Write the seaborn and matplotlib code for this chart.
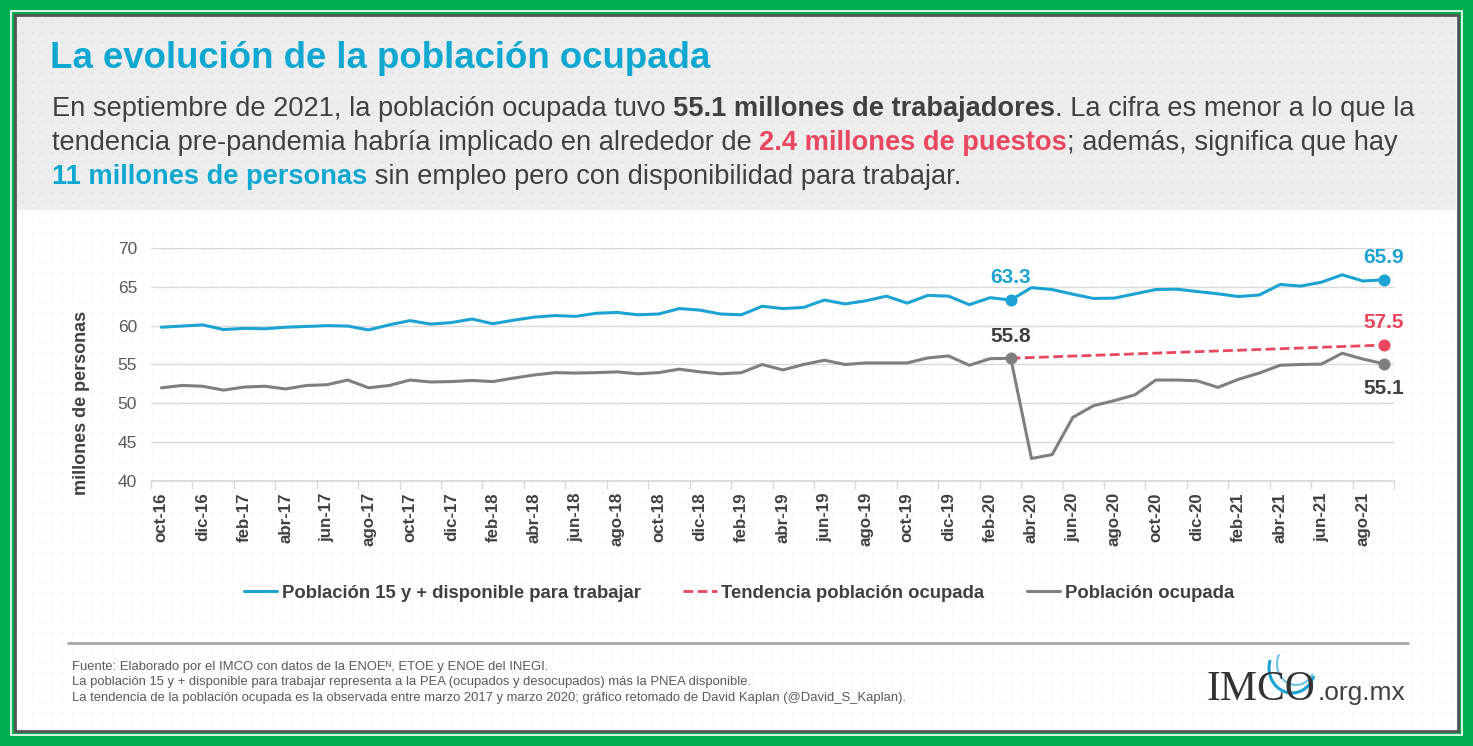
import numpy as np
import pandas as pd
import matplotlib
matplotlib.use("Agg")
import matplotlib.pyplot as plt
from matplotlib.patches import Rectangle, Arc
import seaborn as sns

# Datos en millones de personas, oct-16 .. sep-21 (mensual)
meses_abr = ["ene", "feb", "mar", "abr", "may", "jun", "jul", "ago", "sep", "oct", "nov", "dic"]
meses = [f"{meses_abr[(9 + k) % 12]}-{16 + (9 + k) // 12}" for k in range(60)]

disponible = [59.8, 59.95, 60.1, 59.5, 59.65, 59.6, 59.8, 59.9, 60.0, 59.95,
              59.45, 60.1, 60.65, 60.2, 60.4, 60.85, 60.25, 60.7, 61.1, 61.3,
              61.2, 61.6, 61.7, 61.4, 61.5, 62.2, 62.0, 61.5, 61.4, 62.5,
              62.2, 62.35, 63.3, 62.8, 63.2, 63.8, 62.9, 63.9, 63.8, 62.7,
              63.6, 63.3, 64.9, 64.65, 64.05, 63.5, 63.55, 64.1, 64.65, 64.7,
              64.4, 64.1, 63.75, 63.95, 65.3, 65.1, 65.6, 66.55, 65.75, 65.9]

ocupada = [52.0, 52.3, 52.2, 51.7, 52.1, 52.2, 51.85, 52.3, 52.4, 53.0,
           52.0, 52.3, 53.0, 52.75, 52.8, 52.95, 52.8, 53.25, 53.65, 53.95,
           53.9, 53.95, 54.05, 53.8, 53.95, 54.4, 54.05, 53.8, 53.95, 55.0,
           54.3, 55.0, 55.55, 55.0, 55.2, 55.2, 55.2, 55.85, 56.1, 54.9,
           55.75, 55.8, 42.9, 43.4, 48.2, 49.7, 50.35, 51.1, 53.0, 53.0,
           52.9, 52.05, 53.1, 53.9, 54.9, 55.0, 55.05, 56.45, 55.7, 55.1]

tendencia_meses = ["mar-20", "sep-21"]
tendencia = [55.8, 57.5]

etiquetas_y = [40, 45, 50, 55, 60, 65, 70]

AZUL = "#1BA3D3"
ROJO = "#E8475F"
GRIS = "#7F7F7F"
TEXTO = "#404040"
TITULO = "#0FA8D0"

sns.set_theme(style="white")
plt.rcParams["font.family"] = ["Liberation Sans", "DejaVu Sans"]

W, H = 1473, 746
fig = plt.figure(figsize=(W / 100, H / 100), dpi=100)

# fondo en coordenadas de pixel
bg = fig.add_axes([0, 0, 1, 1], zorder=0)
bg.set_xlim(0, W)
bg.set_ylim(H, 0)
bg.axis("off")
bg.add_patch(Rectangle((0, 0), W, H, facecolor="#00B050", edgecolor="none"))
bg.add_patch(Rectangle((11, 11), W - 22, H - 22, facecolor="none", edgecolor="white", lw=1.2))
bg.add_patch(Rectangle((15, 15), W - 30, H - 30, facecolor="white", edgecolor="#555555", lw=2.0))
bg.add_patch(Rectangle((17, 17), W - 34, 193, facecolor="#EDEDED", edgecolor="none"))
gx, gy = np.meshgrid(np.arange(22, W - 18, 10), np.arange(22, H - 18, 10))
top = gy < 210
bg.scatter(gx[top], gy[top], s=1.6, color="#DDDDDD", linewidths=0)
bg.scatter(gx[~top], gy[~top], s=1.6, color="#ECECEC", linewidths=0)

renderer = fig.canvas.get_renderer()


def ancho(txt, size, weight):
    a = bg.text(0, 0, "|" + txt + "|", fontsize=size, fontweight=weight)
    b = bg.text(0, 0, "||", fontsize=size, fontweight=weight)
    w = a.get_window_extent(renderer).width - b.get_window_extent(renderer).width
    a.remove()
    b.remove()
    return w


def texto_mixto(x, y, partes, size):
    for txt, color, weight in partes:
        bg.text(x, y, txt, color=color, fontsize=size, fontweight=weight, va="baseline", ha="left")
        x += ancho(txt, size, weight)


bg.text(50, 68, "La evolución de la población ocupada", color=TITULO, fontsize=26.4,
        fontweight="bold", va="baseline")
sub = 19.6
texto_mixto(52, 116, [("En septiembre de 2021, la población ocupada tuvo ", TEXTO, "normal"),
                      ("55.1 millones de trabajadores", TEXTO, "bold"),
                      (". La cifra es menor a lo que la", TEXTO, "normal")], sub)
texto_mixto(52, 150, [("tendencia pre-pandemia habría implicado en alrededor de ", TEXTO, "normal"),
                      ("2.4 millones de puestos", ROJO, "bold"),
                      ("; además, significa que hay", TEXTO, "normal")], sub)
texto_mixto(52, 184, [("11 millones de personas", TITULO, "bold"),
                      (" sin empleo pero con disponibilidad para trabajar.", TEXTO, "normal")], sub)

# pie
bg.plot([68, 1408], [643, 643], color="#A6A6A6", lw=2)
notas = ["Fuente: Elaborado por el IMCO con datos de la ENOEᴺ, ETOE y ENOE del INEGI.",
         "La población 15 y + disponible para trabajar representa a la PEA (ocupados y desocupados) más la PNEA disponible.",
         "La tendencia de la población ocupada es la observada entre marzo 2017 y marzo 2020; gráfico retomado de David Kaplan (@David_S_Kaplan)."]
for k, n in enumerate(notas):
    bg.text(72, 670 + 15.5 * k, n, color="#595959", fontsize=9.4, va="baseline")

bg.text(1206, 700, "IMCO", family="Liberation Serif", fontsize=30, color="#333333", va="baseline")
bg.text(1318, 700, ".org.mx", fontsize=19, color=TEXTO, va="baseline")
bg.add_patch(Arc((1292, 668), 46, 50, theta1=20, theta2=200, color="#1BA3D3", lw=2.2))
bg.add_patch(Arc((1296, 664), 38, 42, theta1=30, theta2=210, color="#6CC5E6", lw=1.5))

# grafico
ax = fig.add_axes([151 / W, (H - 481) / H, 1243 / W, 233 / H], zorder=2)
ax.patch.set_alpha(0)
pos = np.arange(len(meses))
pos_tend = [meses.index(m) for m in tendencia_meses]

sns.lineplot(x=pos, y=disponible, color=AZUL, lw=2.2, ax=ax,
             label="Población 15 y + disponible para trabajar")
sns.lineplot(x=pos_tend, y=tendencia, color=ROJO, lw=2.0, ax=ax, linestyle=(0, (3.5, 1.6)),
             label="Tendencia población ocupada")
sns.lineplot(x=pos, y=ocupada, color=GRIS, lw=2.2, ax=ax, label="Población ocupada")

i_mar = meses.index("mar-20")
i_fin = len(meses) - 1
puntos = [(i_mar, disponible[i_mar], AZUL), (i_fin, disponible[i_fin], AZUL),
          (i_mar, ocupada[i_mar], GRIS), (i_fin, ocupada[i_fin], GRIS),
          (pos_tend[-1], tendencia[-1], ROJO)]
for px, py, c in puntos:
    ax.scatter([px], [py], s=75, color=c, zorder=5, linewidths=0)

etq = [(i_mar, disponible[i_mar], AZUL, 16), (i_fin, disponible[i_fin], AZUL, 16),
       (i_mar, ocupada[i_mar], "#404040", 16), (pos_tend[-1], tendencia[-1], ROJO, 16),
       (i_fin, ocupada[i_fin], "#404040", -18)]
for px, py, c, dy in etq:
    ax.annotate(f"{py:.1f}", (px, py), xytext=(0, dy), textcoords="offset points",
                ha="center", va="center", fontsize=15, fontweight="bold", color=c)

ax.set_xlim(-0.5, len(meses) - 0.5)
ax.set_ylim(40, 70)
ax.set_yticks(etiquetas_y)
ax.set_yticklabels([str(v) for v in etiquetas_y], fontsize=12.5, color="#595959")
ax.grid(axis="y", color="#D9D9D9", lw=1)
ax.grid(axis="x", visible=False)
ax.set_xticks(pos[::2])
ax.set_xticklabels(meses[::2], rotation=90, fontsize=12.2, fontweight="bold", color=TEXTO)
ax.set_xticks(np.arange(-0.5, len(meses), 2), minor=True)
ax.tick_params(axis="x", which="major", length=0, pad=8)
ax.tick_params(axis="x", which="minor", length=6, color="#D9D9D9", width=1, bottom=True)
ax.tick_params(axis="y", length=0, pad=10)
for s in ["left", "right", "top"]:
    ax.spines[s].set_visible(False)
ax.spines["bottom"].set_color("#D9D9D9")
ax.set_xlabel("")
ax.set_ylabel("millones de personas", fontsize=13, fontweight="bold", color=TEXTO)
ax.yaxis.set_label_coords((90 - 151) / 1243, (481 - 403) / 233)

h, l = ax.get_legend_handles_labels()
ax.get_legend().remove()
fig.legend(h, l, loc="center", bbox_to_anchor=(739 / W, (H - 593) / H), ncol=3, frameon=False,
           handlelength=1.8, handletextpad=0.25, columnspacing=2.3,
           prop={"size": 13.3, "weight": "bold"}, labelcolor=TEXTO)

fig.savefig("out.png", dpi=100)
